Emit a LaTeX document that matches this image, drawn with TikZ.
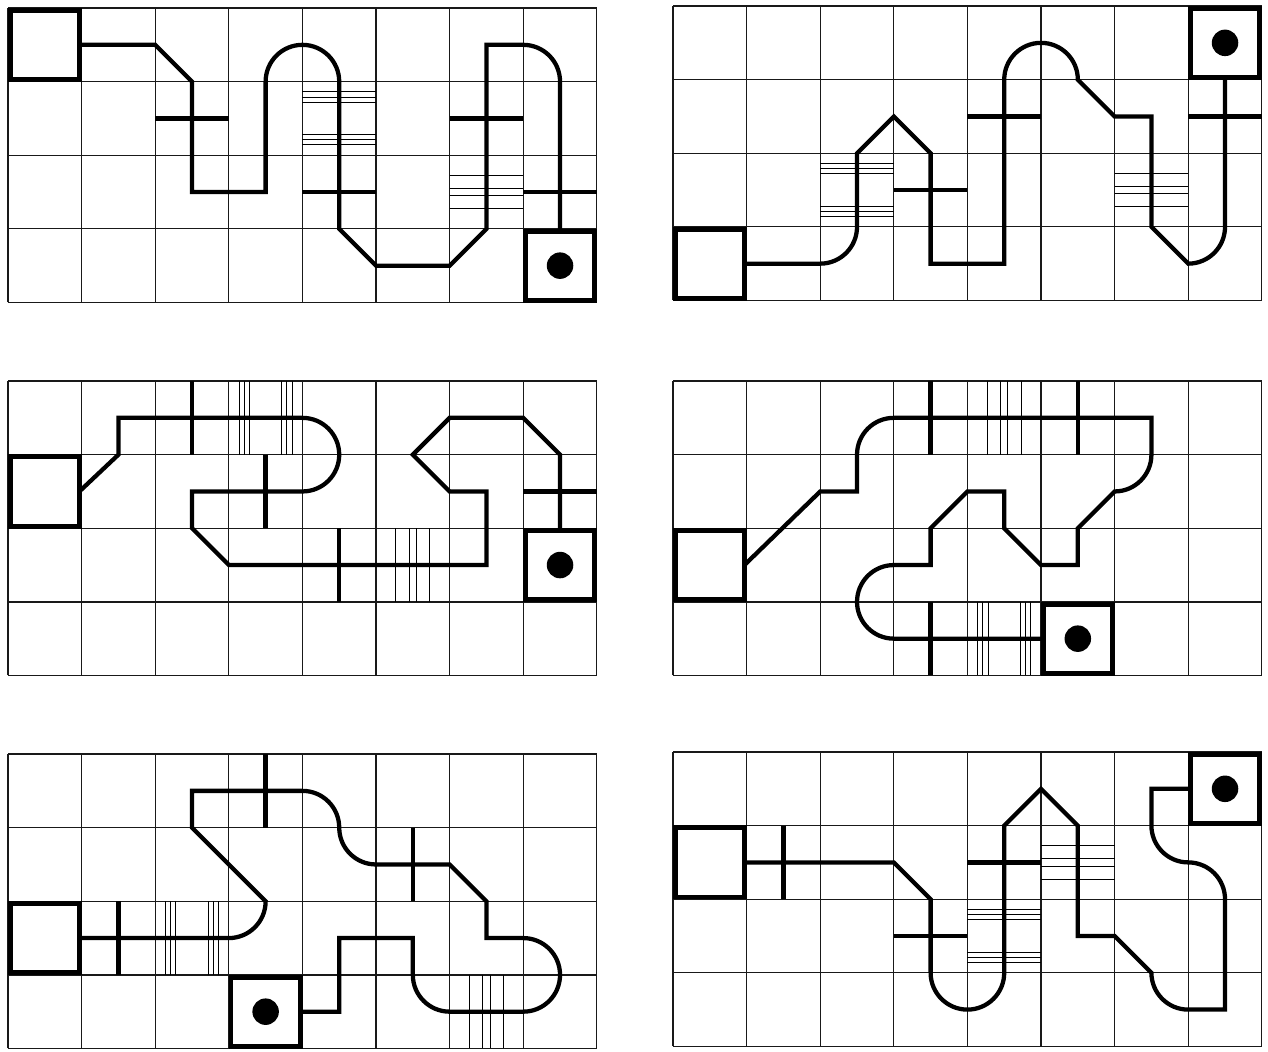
\documentclass[tikz,border=0pt]{standalone}
\begin{document}
\begin{tikzpicture}[
  cellgrid/.style={line width=0.5pt, draw=black!90},
  route/.style={line width=1.65pt, line join=miter},
  bar/.style={line width=1.65pt},
  hatch/.style={line width=0.4pt},
  roombox/.style={draw, line width=1.9pt, minimum size=0.94cm, inner sep=0pt, outer sep=0pt},
  goal/.style={circle, fill=black, minimum size=0.36cm, inner sep=0pt}
]
\fill[white] (0,0) rectangle (17.228,-14.293);
\useasboundingbox (0,0) rectangle (17.228,-14.293);

% ---------- Panel 1 ----------
\begin{scope}[shift={(0.109,-0.109)}]
  \draw[cellgrid] (0,0) grid (8,-4);
  \foreach \t in {0.14,0.21,0.28,0.72,0.79,0.86} \draw[hatch] (4,{-1-\t}) -- (5,{-1-\t});
  \foreach \t in {0.27,0.45,0.55,0.73} \draw[hatch] (6,{-2-\t}) -- (7,{-2-\t});
  \node[roombox] (s1) at (0.5,-0.5) {};
  \node[roombox] (e1) at (7.5,-3.5) {};
  \node[goal] (d1) at (e1.center) {};
  \draw[route] (s1.east) -- (2,-0.5) -- (2.5,-1) -- (2.5,-2.5) -- (3.5,-2.5) -- (3.5,-1)
     arc[start angle=180, end angle=0, radius=0.5] -- (4.5,-3) -- (5,-3.5) -- (6,-3.5)
     -- (6.5,-3) -- (6.5,-0.5) -- (7,-0.5) arc[start angle=90, end angle=0, radius=0.5]
     -- (e1.north);
  \draw[bar] (2,-1.5) -- (3,-1.5);
  \draw[bar] (4,-2.5) -- (5,-2.5);
  \draw[bar] (6,-1.5) -- (7,-1.5);
  \draw[bar] (7,-2.5) -- (8,-2.5);
\end{scope}

% ---------- Panel 2 ----------
\begin{scope}[shift={(9.144,-0.082)}]
  \draw[cellgrid] (0,0) grid (8,-4);
  \foreach \t in {0.14,0.21,0.28,0.72,0.79,0.86} \draw[hatch] (2,{-2-\t}) -- (3,{-2-\t});
  \foreach \t in {0.27,0.45,0.55,0.73} \draw[hatch] (6,{-2-\t}) -- (7,{-2-\t});
  \node[roombox] (s2) at (0.5,-3.5) {};
  \node[roombox] (e2) at (7.5,-0.5) {};
  \node[goal] (d2) at (e2.center) {};
  \draw[route] (s2.east) -- (2,-3.5) arc[start angle=-90, end angle=0, radius=0.5]
     -- (2.5,-2) -- (3,-1.5) -- (3.5,-2) -- (3.5,-3.5) -- (4.5,-3.5) -- (4.5,-1)
     arc[start angle=180, end angle=0, radius=0.5] -- (6,-1.5) -- (6.5,-1.5) -- (6.5,-3)
     -- (7,-3.5) arc[start angle=-90, end angle=0, radius=0.5] -- (e2.south);
  \draw[bar] (4,-1.5) -- (5,-1.5);
  \draw[bar] (3,-2.5) -- (4,-2.5);
  \draw[bar] (7,-1.5) -- (8,-1.5);
\end{scope}

% ---------- Panel 3 ----------
\begin{scope}[shift={(0.109,-5.177)}]
  \draw[cellgrid] (0,0) grid (8,-4);
  \foreach \t in {0.14,0.21,0.28,0.72,0.79,0.86} \draw[hatch] ({3+\t},0) -- ({3+\t},-1);
  \foreach \t in {0.27,0.45,0.55,0.73} \draw[hatch] ({5+\t},-2) -- ({5+\t},-3);
  \node[roombox] (s3) at (0.5,-1.5) {};
  \node[roombox] (e3) at (7.5,-2.5) {};
  \node[goal] (d3) at (e3.center) {};
  \draw[route] (s3.east) -- (1.5,-1) -- (1.5,-0.5) -- (4,-0.5)
     arc[start angle=90, end angle=-90, radius=0.5] -- (2.5,-1.5) -- (2.5,-2) -- (3,-2.5)
     -- (6.5,-2.5) -- (6.5,-1.5) -- (6,-1.5) -- (5.5,-1) -- (6,-0.5) -- (7,-0.5)
     -- (7.5,-1) -- (e3.north);
  \draw[bar] (2.5,0) -- (2.5,-1);
  \draw[bar] (3.5,-1) -- (3.5,-2);
  \draw[bar] (4.5,-2) -- (4.5,-3);
  \draw[bar] (7,-1.5) -- (8,-1.5);
\end{scope}

% ---------- Panel 4 ----------
\begin{scope}[shift={(9.144,-5.177)}]
  \draw[cellgrid] (0,0) grid (8,-4);
  \foreach \t in {0.27,0.45,0.55,0.73} \draw[hatch] ({4+\t},0) -- ({4+\t},-1);
  \foreach \t in {0.14,0.21,0.28,0.72,0.79,0.86} \draw[hatch] ({4+\t},-3) -- ({4+\t},-4);
  \node[roombox] (s4) at (0.5,-2.5) {};
  \node[roombox] (e4) at (5.5,-3.5) {};
  \node[goal] (d4) at (e4.center) {};
  \draw[route] (s4.east) -- (2,-1.5) -- (2.5,-1.5) -- (2.5,-1)
     arc[start angle=180, end angle=90, radius=0.5] -- (6.5,-0.5) -- (6.5,-1)
     arc[start angle=0, end angle=-90, radius=0.5] -- (5.5,-2) -- (5.5,-2.5) -- (5,-2.5)
     -- (4.5,-2) -- (4.5,-1.5) -- (4,-1.5) -- (3.5,-2) -- (3.5,-2.5) -- (3,-2.5)
     arc[start angle=90, end angle=270, radius=0.5] -- (e4.west);
  \draw[bar] (3.5,0) -- (3.5,-1);
  \draw[bar] (5.5,0) -- (5.5,-1);
  \draw[bar] (3.5,-3) -- (3.5,-4);
\end{scope}

% ---------- Panel 5 ----------
\begin{scope}[shift={(0.109,-10.245)}]
  \draw[cellgrid] (0,0) grid (8,-4);
  \foreach \t in {0.14,0.21,0.28,0.72,0.79,0.86} \draw[hatch] ({2+\t},-2) -- ({2+\t},-3);
  \foreach \t in {0.27,0.45,0.55,0.73} \draw[hatch] ({6+\t},-3) -- ({6+\t},-4);
  \node[roombox] (s5) at (0.5,-2.5) {};
  \node[roombox] (e5) at (3.5,-3.5) {};
  \node[goal] (d5) at (e5.center) {};
  \draw[route] (s5.east) -- (3,-2.5) arc[start angle=-90, end angle=0, radius=0.5]
     -- (2.5,-1) -- (2.5,-0.5) -- (4,-0.5) arc[start angle=90, end angle=0, radius=0.5]
     arc[start angle=180, end angle=270, radius=0.5] -- (6,-1.5) -- (6.5,-2) -- (6.5,-2.5)
     -- (7,-2.5) arc[start angle=90, end angle=-90, radius=0.5] -- (6,-3.5)
     arc[start angle=270, end angle=180, radius=0.5] -- (5.5,-2.5) -- (4.5,-2.5)
     -- (4.5,-3.5) -- (e5.east);
  \draw[bar] (3.5,0) -- (3.5,-1);
  \draw[bar] (5.5,-1) -- (5.5,-2);
  \draw[bar] (1.5,-2) -- (1.5,-3);
\end{scope}

% ---------- Panel 6 ----------
\begin{scope}[shift={(9.144,-10.217)}]
  \draw[cellgrid] (0,0) grid (8,-4);
  \foreach \t in {0.27,0.45,0.55,0.73} \draw[hatch] (5,{-1-\t}) -- (6,{-1-\t});
  \foreach \t in {0.14,0.21,0.28,0.72,0.79,0.86} \draw[hatch] (4,{-2-\t}) -- (5,{-2-\t});
  \node[roombox] (s6) at (0.5,-1.5) {};
  \node[roombox] (e6) at (7.5,-0.5) {};
  \node[goal] (d6) at (e6.center) {};
  \draw[route] (s6.east) -- (3,-1.5) -- (3.5,-2) -- (3.5,-3)
     arc[start angle=180, end angle=360, radius=0.5] -- (4.5,-1) -- (5,-0.5) -- (5.5,-1)
     -- (5.5,-2.5) -- (6,-2.5) -- (6.5,-3) arc[start angle=180, end angle=270, radius=0.5]
     -- (7.5,-3.5) -- (7.5,-2) arc[start angle=0, end angle=90, radius=0.5]
     arc[start angle=270, end angle=180, radius=0.5] -- (6.5,-0.5) -- (e6.west);
  \draw[bar] (1.5,-1) -- (1.5,-2);
  \draw[bar] (4,-1.5) -- (5,-1.5);
  \draw[bar] (3,-2.5) -- (4,-2.5);
\end{scope}
\end{tikzpicture}
\end{document}
